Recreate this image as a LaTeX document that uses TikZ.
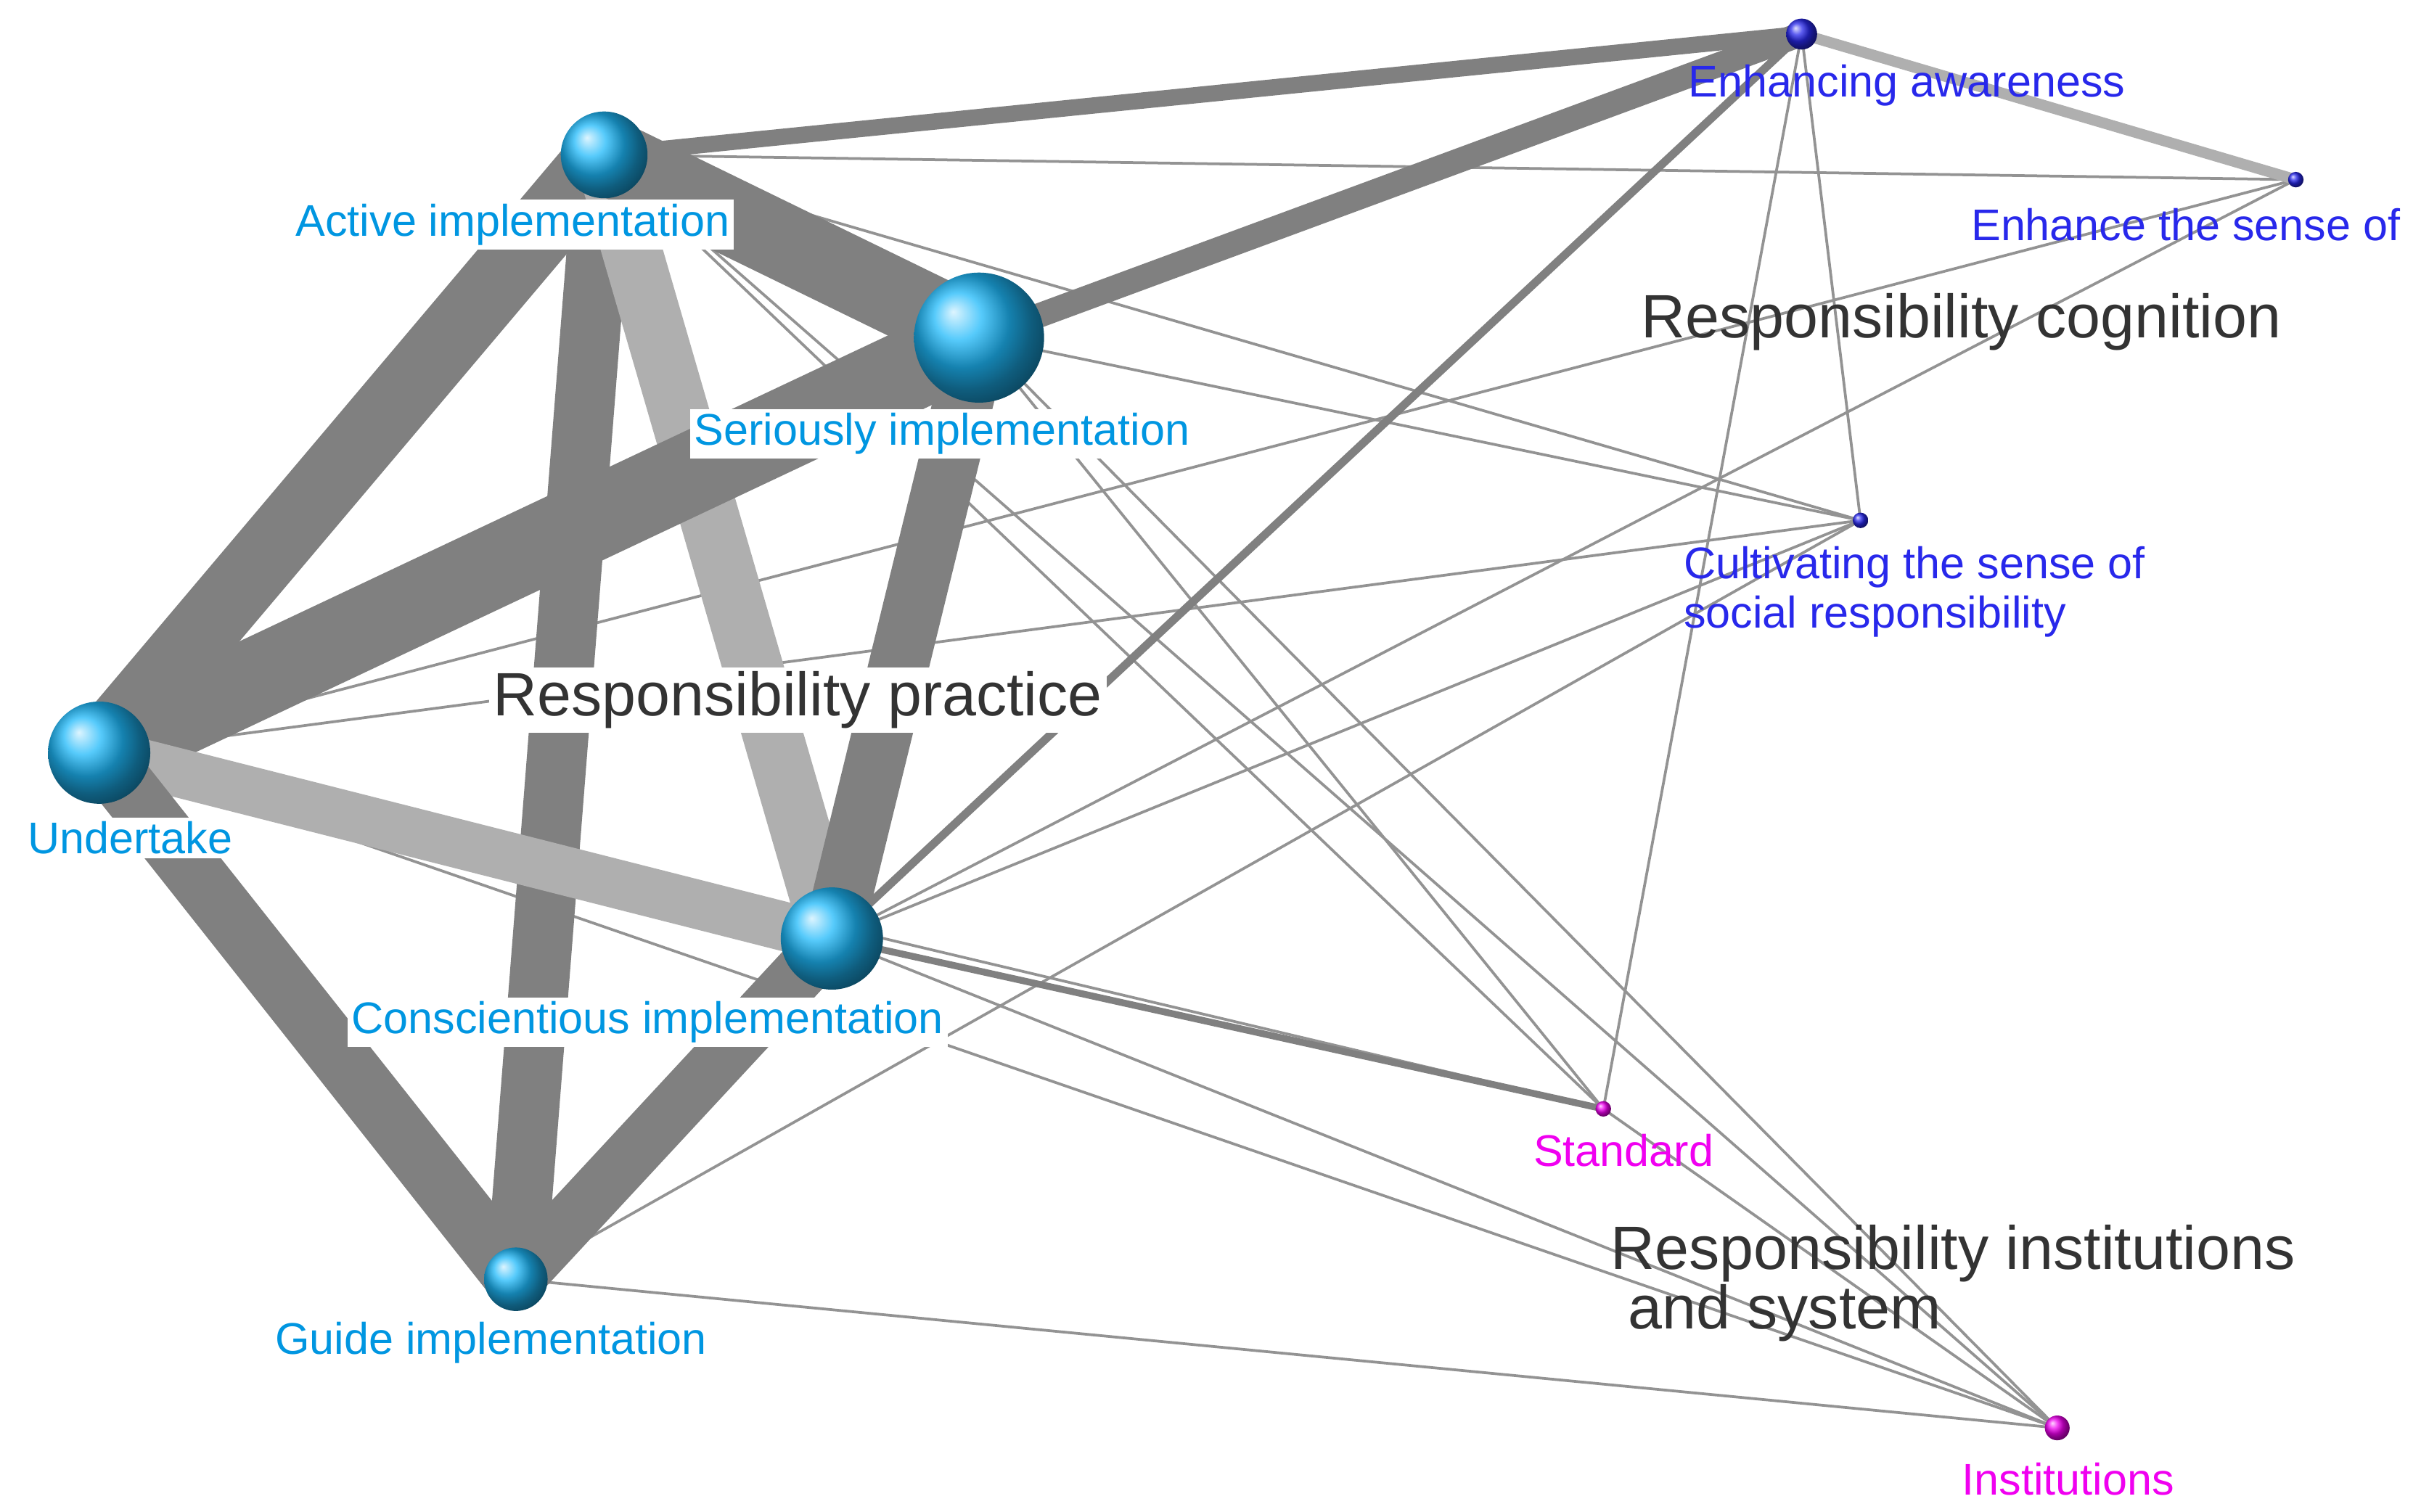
\documentclass[tikz,border=0pt]{standalone}
\usepackage{fontspec}
\setmainfont{Liberation Sans}
\definecolor{lb}{RGB}{0,150,225}
\definecolor{bb}{RGB}{30,185,250}
\definecolor{db}{RGB}{40,40,235}
\definecolor{mg}{RGB}{240,0,240}
\definecolor{eg}{RGB}{128,128,128}
\definecolor{lg}{RGB}{175,175,175}
\begin{document}
\begin{tikzpicture}[x=0.02cm,y=-0.02cm,
  ball/.style={circle,shading=ball,ball color=#1,inner sep=0pt},
  lab/.style={font=\fontsize{16.3}{18}\selectfont,inner sep=1.5pt},
  big/.style={font=\fontsize{22.5}{22}\selectfont,text=black!80,inner sep=1.5pt},
  thin/.style={draw=eg!85,line width=1pt}]
\useasboundingbox (0,0) rectangle (1568,976);
\fill[white] (0,0) rectangle (1568,976);
\coordinate (A) at (390,100);
\coordinate (S) at (632,218);
\coordinate (U) at (64,486);
\coordinate (C) at (537,606);
\coordinate (G) at (333,826);
\coordinate (E) at (1163,22);
\coordinate (H) at (1482,116);
\coordinate (K) at (1201,336);
\coordinate (T) at (1035,716);
\coordinate (I) at (1328,922);
% thin edges
\foreach \a/\b in {A/K,A/T,A/I,A/H,S/K,S/I,S/T,U/K,U/H,U/T,U/I,C/K,C/H,C/T,C/I,G/K,G/I,E/K,E/T,T/I,S/E}
  \draw[thin] (\a) -- (\b);
\draw[lg,line width=4pt] (E) -- (H);
\draw[eg,line width=3pt] (C) -- (E);
\draw[eg,line width=2.5pt] (C) -- (T);
\draw[eg,line width=6pt] (A) -- (E);
\draw[eg,line width=9pt] (S) -- (E);
% thick edges
\draw[eg,line width=26pt] (A) -- (U);
\draw[eg,line width=22pt] (A) -- (G);
\draw[lg,line width=22pt] (A) -- (C);
\draw[eg,line width=28pt] (A) -- (S);
\draw[eg,line width=30pt] (U) -- (S);
\draw[lg,line width=18pt] (U) -- (C);
\draw[eg,line width=22pt] (U) -- (G);
\draw[eg,line width=22pt] (S) -- (C);
\draw[eg,line width=20pt] (C) -- (G);
% nodes
\node[ball=bb,minimum size=1.12cm] (nA) at (A) {};
\node[ball=bb,minimum size=1.68cm] (nS) at (S) {};
\node[ball=bb,minimum size=1.32cm] (nU) at (U) {};
\node[ball=bb,minimum size=1.32cm] (nC) at (C) {};
\node[ball=bb,minimum size=0.82cm] (nG) at (G) {};
\node[ball=db,minimum size=0.4cm] (nE) at (E) {};
\node[ball=db,minimum size=0.2cm] (nH) at (H) {};
\node[ball=db,minimum size=0.2cm] (nK) at (K) {};
\node[ball=mg,minimum size=0.2cm] (nT) at (T) {};
\node[ball=mg,minimum size=0.32cm] (nI) at (I) {};
% labels
\node[lab,text=lb,fill=white] (lA) at (331,145) {Active implementation};
\node[lab,text=lb,fill=white] (lS) at (608,280) {Seriously implementation};
\node[lab,text=lb,fill=white] (lU) at (84,541) {Undertake};
\node[lab,text=lb,fill=white] (lC) at (418,660) {Conscientious implementation};
\node[lab,text=lb] (lG) at (317,867) {Guide implementation};
\node[lab,text=db] (lE) at (1231,55) {Enhancing awareness};
\node[lab,text=db] (lH) at (1411,145) {Enhance the sense of};
\node[lab,text=db,align=left,anchor=north west] (lK) at (1084,350) {Cultivating the sense of\\social responsibility};
\node[lab,text=mg] (lT) at (1048,743) {Standard};
\node[lab,text=mg] (lI) at (1335,955) {Institutions};
\node[big] (bc) at (1266,208) {Responsibility cognition};
\node[big,fill=white] (bp) at (515,452) {Responsibility practice};
\node[big,align=left,anchor=north west,font=\fontsize{22.5}{16}\selectfont] (bi) at (1037,788) {Responsibility institutions\\\ and system};
\end{tikzpicture}
\end{document}
